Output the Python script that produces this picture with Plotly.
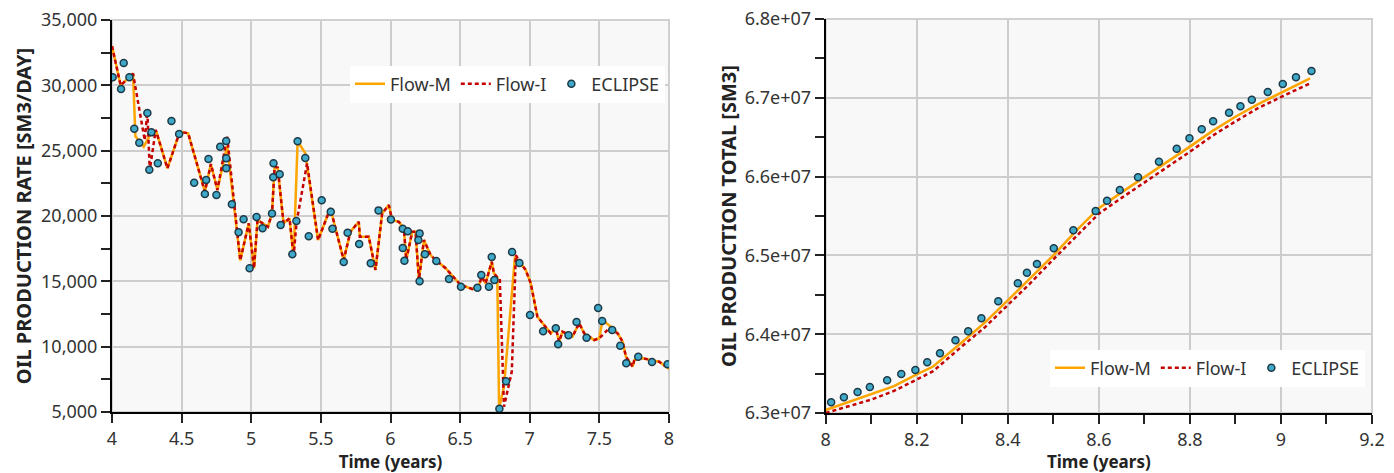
import plotly.graph_objects as go

# ---------------- Left chart data: oil production rate ----------------
ecl_rate_t = [4.005, 4.065, 4.084, 4.125, 4.16, 4.196, 4.254, 4.268, 4.283, 4.329,
              4.427, 4.482, 4.59, 4.667, 4.676, 4.693, 4.75, 4.777, 4.82, 4.82,
              4.82, 4.861, 4.909, 4.945, 4.988, 5.038, 5.081, 5.149, 5.158, 5.16,
              5.204, 5.211, 5.295, 5.324, 5.333, 5.388, 5.413, 5.506, 5.571, 5.583,
              5.664, 5.692, 5.775, 5.858, 5.914, 6.003, 6.088, 6.124, 6.088, 6.1,
              6.209, 6.2, 6.247, 6.209, 6.329, 6.42, 6.506, 6.624, 6.652, 6.707,
              6.727, 6.746, 6.782, 6.83, 6.873, 6.926, 7.002, 7.096, 7.187, 7.204,
              7.278, 7.336, 7.408, 7.491, 7.52, 7.592, 7.65, 7.693, 7.779, 7.878, 7.99]
ecl_rate_v = [30615, 29720, 31710, 30615, 26680, 25610, 27880, 23545, 26400, 24030,
              27270, 26280, 22550, 21680, 22760, 24360, 21610, 25300, 25740, 24420,
              23650, 20900, 18750, 19750, 16000, 19920, 19060, 20200, 22960, 24030,
              23190, 19310, 17070, 19620, 25720, 24440, 18450, 21200, 20330, 19030,
              16480, 18720, 17860, 16380, 20430, 19730, 19030, 18830, 17550, 16580,
              18670, 18160, 17070, 15000, 16560, 15180, 14590, 14510, 15480, 14590,
              16860, 15100, 5250, 7350, 17250, 16400, 12420, 11180, 11410, 10180,
              10870, 11890, 10690, 12960, 11960, 11270, 10070, 8730, 9230, 8830, 8650]

flowm_rate_t = [4.0, 4.062, 4.151, 4.168, 4.228, 4.283, 4.32, 4.398, 4.487, 4.547,
                4.667, 4.71, 4.757, 4.827, 4.921, 4.982, 5.02, 5.045, 5.12, 5.149,
                5.168, 5.19, 5.232, 5.275, 5.304, 5.333, 5.388, 5.48, 5.568, 5.664,
                5.712, 5.772, 5.78, 5.844, 5.892, 5.94, 5.988, 6.012, 6.06, 6.096,
                6.113, 6.156, 6.18, 6.204, 6.24, 6.288, 6.324, 6.396, 6.504, 6.588,
                6.636, 6.655, 6.683, 6.727, 6.743, 6.767, 6.78, 6.815, 6.894, 6.935,
                6.971, 7.007, 7.055, 7.151, 7.187, 7.211, 7.235, 7.307, 7.355, 7.391,
                7.463, 7.499, 7.523, 7.595, 7.631, 7.667, 7.691, 7.739, 7.751, 7.811,
                7.93, 8.0]
flowm_rate_v = [33000, 30000, 30900, 26100, 25300, 26400, 26400, 23650, 26450, 26330,
                21860, 23980, 21990, 25360, 16600, 19440, 16000, 19690, 19180, 20200,
                23770, 23700, 19440, 19820, 16890, 25720, 24800, 18160, 20590, 16630,
                18800, 19560, 18420, 18420, 15870, 20200, 20840, 19690, 19560, 19060,
                16630, 18800, 18800, 15100, 18160, 17010, 16630, 16000, 14720, 14410,
                14720, 15350, 14850, 16500, 15610, 15310, 5280, 6940, 16890, 16380,
                15870, 14850, 12290, 11020, 11410, 10380, 11150, 10770, 11790, 11020,
                10510, 10640, 12040, 11410, 11020, 10380, 9230, 8470, 8980, 9110,
                8850, 8300]

flowi_rate_t = [4.0, 4.062, 4.151, 4.235, 4.254, 4.271, 4.314, 4.398, 4.487, 4.547,
                4.667, 4.71, 4.757, 4.827, 4.921, 4.982, 5.02, 5.045, 5.12, 5.149,
                5.168, 5.19, 5.232, 5.275, 5.304, 5.325, 5.401, 5.48, 5.568, 5.664,
                5.712, 5.772, 5.78, 5.844, 5.892, 5.94, 5.988, 6.012, 6.06, 6.096,
                6.113, 6.156, 6.18, 6.204, 6.24, 6.288, 6.324, 6.396, 6.504, 6.588,
                6.636, 6.655, 6.683, 6.727, 6.743, 6.767, 6.785, 6.815, 6.871, 6.9,
                6.935, 6.971, 7.007, 7.055, 7.151, 7.187, 7.211, 7.235, 7.307, 7.355,
                7.391, 7.463, 7.499, 7.571, 7.631, 7.667, 7.691, 7.739, 7.751, 7.811,
                7.93, 8.0]
flowi_rate_v = [33000, 30000, 30900, 25800, 28000, 23500, 26600, 23650, 26450, 26330,
                21860, 23980, 21990, 26070, 16600, 19440, 16000, 19690, 19180, 20200,
                23770, 23700, 19440, 19820, 16890, 19500, 24030, 18160, 20590, 16630,
                18800, 19560, 18420, 18420, 15870, 20200, 20840, 19690, 19560, 19060,
                16630, 18800, 18800, 15100, 18160, 17010, 16630, 16000, 14720, 14410,
                14720, 15350, 14850, 16500, 15610, 15310, 15200, 5410, 8090, 17010,
                16380, 15870, 14850, 12290, 11020, 11410, 10380, 11150, 10770, 11790,
                11020, 10510, 10640, 11410, 11020, 10380, 9230, 8470, 8980, 9110,
                8850, 8300]

# ---------------- Right chart data: oil production total ----------------
ecl_total_t = [8.012, 8.040, 8.070, 8.097, 8.135, 8.166, 8.197, 8.223, 8.251, 8.285,
               8.313, 8.342, 8.379, 8.422, 8.442, 8.464, 8.501, 8.544, 8.593, 8.618,
               8.646, 8.686, 8.732, 8.771, 8.799, 8.826, 8.851, 8.886, 8.911, 8.936,
               8.971, 9.004, 9.033, 9.067]
ecl_total_v = [63.136e6, 63.199e6, 63.267e6, 63.330e6, 63.415e6, 63.495e6, 63.546e6,
               63.644e6, 63.758e6, 63.923e6, 64.037e6, 64.202e6, 64.418e6, 64.646e6,
               64.781e6, 64.891e6, 65.090e6, 65.319e6, 65.564e6, 65.694e6, 65.830e6,
               65.991e6, 66.189e6, 66.354e6, 66.486e6, 66.600e6, 66.702e6, 66.811e6,
               66.892e6, 66.976e6, 67.074e6, 67.175e6, 67.260e6, 67.340e6]

line_total_t = [8.0, 8.05, 8.1, 8.15, 8.2, 8.236, 8.3, 8.35, 8.4, 8.45, 8.5, 8.55,
                8.6, 8.65, 8.7, 8.75, 8.8, 8.85, 8.9, 8.95, 9.0, 9.03, 9.064]
flowm_total_v = [63.038e6, 63.140e6, 63.240e6, 63.340e6, 63.490e6, 63.590e6, 63.900e6,
                 64.150e6, 64.430e6, 64.710e6, 65.000e6, 65.310e6, 65.600e6, 65.800e6,
                 65.990e6, 66.190e6, 66.380e6, 66.580e6, 66.760e6, 66.920e6, 67.060e6,
                 67.150e6, 67.247e6]
flowi_total_v = [63.000e6, 63.090e6, 63.170e6, 63.280e6, 63.420e6, 63.530e6, 63.850e6,
                 64.090e6, 64.370e6, 64.650e6, 64.950e6, 65.240e6, 65.530e6, 65.730e6,
                 65.920e6, 66.120e6, 66.316e6, 66.520e6, 66.700e6, 66.870e6, 67.010e6,
                 67.090e6, 67.184e6]

total_tickvals = [6.3e7, 6.4e7, 6.5e7, 6.6e7, 6.7e7, 6.8e7]
total_ticktext = ["6.3e+07", "6.4e+07", "6.5e+07", "6.6e+07", "6.7e+07", "6.8e+07"]

# ---------------- Styles ----------------
ORANGE = "#FFA500"
RED = "#C40000"
MARK_FILL = "#3FA9C9"
MARK_LINE = "#1E3A48"
FONT = "Noto Sans"

W, H = 1394, 473

fig = go.Figure()

def add_series(xs_m, ys_m, xs_i, ys_i, xs_e, ys_e, xa, ya, leg):
    fig.add_trace(go.Scatter(x=xs_m, y=ys_m, mode="lines", name="Flow-M",
                             line=dict(color=ORANGE, width=2.5),
                             xaxis=xa, yaxis=ya, legend=leg))
    fig.add_trace(go.Scatter(x=xs_i, y=ys_i, mode="lines", name="Flow-I",
                             line=dict(color=RED, width=2.5, dash="4px,3px"),
                             xaxis=xa, yaxis=ya, legend=leg))
    fig.add_trace(go.Scatter(x=xs_e, y=ys_e, mode="markers", name="ECLIPSE",
                             marker=dict(color=MARK_FILL, size=7,
                                         line=dict(color=MARK_LINE, width=1.5)),
                             xaxis=xa, yaxis=ya, legend=leg))

add_series(flowm_rate_t, flowm_rate_v, flowi_rate_t, flowi_rate_v,
           ecl_rate_t, ecl_rate_v, "x", "y", "legend")
add_series(line_total_t, flowm_total_v, line_total_t, flowi_total_v,
           ecl_total_t, ecl_total_v, "x2", "y2", "legend2")

tickfont = dict(family=FONT, size=18, color="#333333")
xtitlefont = dict(family=FONT, size=17, color="#222222", weight="bold")
ytitlefont = dict(family=FONT, size=20, color="#222222", weight="bold")
axis_common = dict(showline=True, linecolor="black", linewidth=2,
                   ticks="outside", ticklen=9, tickwidth=1.5, tickcolor="#222",
                   showgrid=True, gridcolor="#CDCDCD", gridwidth=1.5,
                   zeroline=False, tickfont=tickfont, automargin=False)

L0, L1 = 112 / W, 669 / W
R0, R1 = 825.7 / W, 1372 / W
LY0, LY1 = 1 - 412 / H, 1 - 20 / H
RY0, RY1 = 1 - 413 / H, 1 - 19 / H

legfont = dict(family=FONT, size=18, color="#333")

fig.update_layout(
    width=W, height=H,
    margin=dict(l=0, r=0, t=0, b=0),
    paper_bgcolor="white",
    plot_bgcolor="#F8F8F8",
    font=dict(family=FONT),
    xaxis=dict(domain=[L0, L1], range=[4, 8], dtick=0.5, tick0=4, anchor="y",
               title=dict(text="Time (years)", font=xtitlefont, standoff=3),
               **axis_common),
    yaxis=dict(domain=[LY0, LY1], range=[5000, 35000], dtick=5000, tick0=5000,
               tickformat=",", anchor="x",
               minor=dict(ticks="outside", ticklen=9, dtick=2500, tickcolor="#222",
                          tickwidth=1.5, showgrid=False),
               title=dict(text="OIL PRODUCTION RATE [SM3/DAY]", font=ytitlefont, standoff=4),
               **axis_common),
    xaxis2=dict(domain=[R0, R1], range=[8, 9.2], dtick=0.2, tick0=8, anchor="y2",
                minor=dict(ticks="outside", ticklen=9, dtick=0.1, tickcolor="#222",
                           tickwidth=1.5, showgrid=False),
                title=dict(text="Time (years)", font=xtitlefont, standoff=3),
                **axis_common),
    yaxis2=dict(domain=[RY0, RY1], range=[6.3e7, 6.8e7], anchor="x2",
                tickmode="array", tickvals=total_tickvals, ticktext=total_ticktext,
                minor=dict(ticks="outside", ticklen=9, tickmode="linear", tick0=6.3e7,
                           dtick=5e5, tickcolor="#222", tickwidth=1.5, showgrid=False),
                title=dict(text="OIL PRODUCTION TOTAL [SM3]", font=ytitlefont, standoff=3),
                **axis_common),
    legend=dict(orientation="h", x=665 / W, xanchor="right", y=1 - 84 / H, yanchor="middle",
                bgcolor="white", font=legfont, itemwidth=30, tracegroupgap=0),
    legend2=dict(orientation="h", x=1365 / W, xanchor="right", y=1 - 368 / H, yanchor="middle",
                 bgcolor="white", font=legfont, itemwidth=30, tracegroupgap=0),
    shapes=[
        dict(type="rect", xref="x domain", yref="y domain", x0=0, x1=1, y0=0, y1=1,
             line=dict(color="#D0D0D0", width=2), layer="below"),
        dict(type="rect", xref="x2 domain", yref="y2 domain", x0=0, x1=1, y0=0, y1=1,
             line=dict(color="#D0D0D0", width=2), layer="below"),
    ],
)

fig.write_html("out.html")
